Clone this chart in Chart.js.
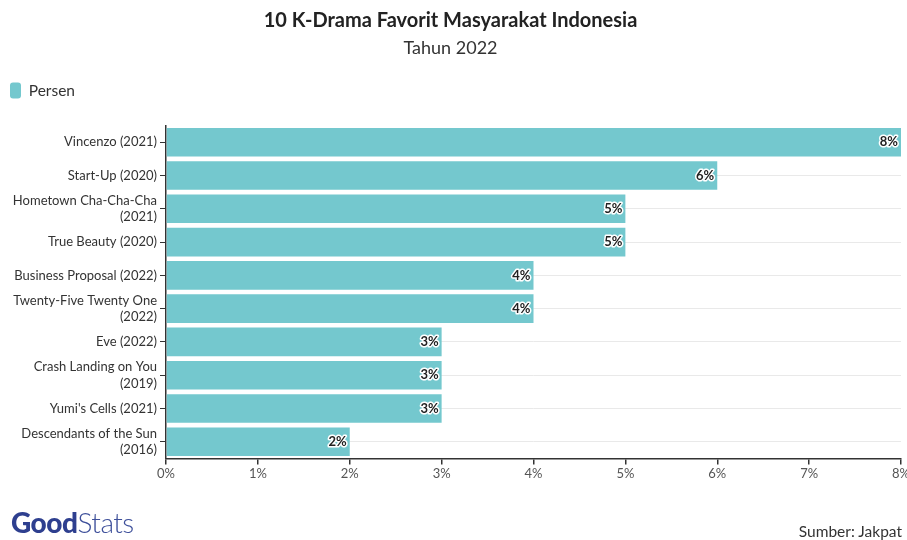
<!DOCTYPE html>
<html>
<head>
<meta charset="utf-8">
<script src="https://cdn.jsdelivr.net/npm/chart.js@4/dist/chart.umd.min.js"></script>
<style>
  html, body { margin: 0; padding: 0; background: #fff; }
  #wrap { position: relative; width: 907px; height: 540px; }
  #logo { position: absolute; left: 11px; top: 505px; font-family: Lato, sans-serif; font-size: 28px; letter-spacing: -0.5px; }
  #logo .g { color: #2e3f8f; font-weight: 900; }
  #logo .s { color: #3d4f9a; font-weight: 300; }
  #sumber { position: absolute; right: 5px; top: 522px; font-family: Lato, sans-serif; font-size: 15.5px; color: #333; }
</style>
</head>
<body>
<div id="wrap">
  <canvas id="myChart" width="907" height="540"></canvas>
  <div id="logo"><span class="g">Good</span><span class="s">Stats</span></div>
  <div id="sumber">Sumber: Jakpat</div>
</div>
<script>
const judul = '10 K-Drama Favorit Masyarakat Indonesia';
const subjudul = 'Tahun 2022';
const kategori = [
  'Vincenzo (2021)',
  'Start-Up (2020)',
  ['Hometown Cha-Cha-Cha', '(2021)'],
  'True Beauty (2020)',
  'Business Proposal (2022)',
  ['Twenty-Five Twenty One', '(2022)'],
  'Eve (2022)',
  ['Crash Landing on You', '(2019)'],
  "Yumi's Cells (2021)",
  ['Descendants of the Sun', '(2016)']
];
const persen = [8, 6, 5, 5, 4, 4, 3, 3, 3, 2];
const tickX = [0, 1, 2, 3, 4, 5, 6, 7, 8];

const warnaBar = '#74c8ce';

// Label nilai di ujung batang
const labelNilai = {
  id: 'labelNilai',
  afterDatasetsDraw(chart) {
    const ctx = chart.ctx;
    const meta = chart.getDatasetMeta(0);
    ctx.save();
    ctx.font = 'bold 13px Lato, sans-serif';
    ctx.textAlign = 'right';
    ctx.textBaseline = 'middle';
    ctx.lineJoin = 'round';
    meta.data.forEach((bar, i) => {
      const teks = persen[i] + '%';
      ctx.lineWidth = 3;
      ctx.strokeStyle = '#ffffff';
      ctx.strokeText(teks, bar.x - 3, bar.y);
      ctx.fillStyle = '#222';
      ctx.fillText(teks, bar.x - 3, bar.y);
    });
    ctx.restore();
  }
};

// jarak tambahan di bawah legenda
const jarakLegenda = {
  id: 'jarakLegenda',
  beforeInit(chart) {
    const fitAsli = chart.legend.fit;
    chart.legend.fit = function () {
      fitAsli.bind(chart.legend)();
      this.height += 17;
    };
  }
};

const ctx = document.getElementById('myChart').getContext('2d');
new Chart(ctx, {
  type: 'bar',
  data: {
    labels: kategori,
    datasets: [{
      label: 'Persen',
      data: persen,
      backgroundColor: warnaBar,
      borderColor: warnaBar,
      borderWidth: 0,
      borderRadius: 0,
      barPercentage: 0.86,
      categoryPercentage: 1
    }]
  },
  options: {
    indexAxis: 'y',
    responsive: false,
    animation: false,
    layout: { padding: { left: 0, right: 6, top: 4, bottom: 56 } },
    plugins: {
      title: {
        display: true,
        text: judul,
        color: '#222',
        font: { family: 'Lato, sans-serif', size: 20, weight: 'bold' },
        padding: { top: 5, bottom: 4 }
      },
      subtitle: {
        display: true,
        text: subjudul,
        color: '#333',
        font: { family: 'Lato, sans-serif', size: 18 },
        padding: { bottom: 14 }
      },
      legend: {
        align: 'start',
        labels: {
          boxWidth: 11,
          boxHeight: 16,
          useBorderRadius: true,
          borderRadius: 3,
          color: '#333',
          padding: 10,
          font: { family: 'Lato, sans-serif', size: 15.5 }
        }
      },
      tooltip: { enabled: false }
    },
    scales: {
      x: {
        min: 0,
        max: 8,
        afterBuildTicks: scale => { scale.ticks = tickX.map(v => ({ value: v })); },
        afterFit: scale => { scale.paddingRight = 0; scale.paddingLeft = 0; },
        border: { color: '#333', width: 1.5 },
        grid: { drawOnChartArea: false, tickColor: '#333', tickLength: 6, lineWidth: 1.5 },
        ticks: {
          callback: v => v + '%',
          color: '#555',
          padding: 2,
          font: { family: 'Lato, sans-serif', size: 13 }
        }
      },
      y: {
        afterFit: scale => { scale.width = 166; },
        border: { color: '#333', width: 1.5 },
        grid: { offset: false, color: '#e9e9e9', tickColor: '#333', tickLength: 6 },
        ticks: {
          autoSkip: false,
          color: '#333',
          padding: 3,
          font: { family: 'Lato, sans-serif', size: 13, lineHeight: 1.25 }
        }
      }
    }
  },
  plugins: [labelNilai, jarakLegenda]
});
</script>
</body>
</html>
